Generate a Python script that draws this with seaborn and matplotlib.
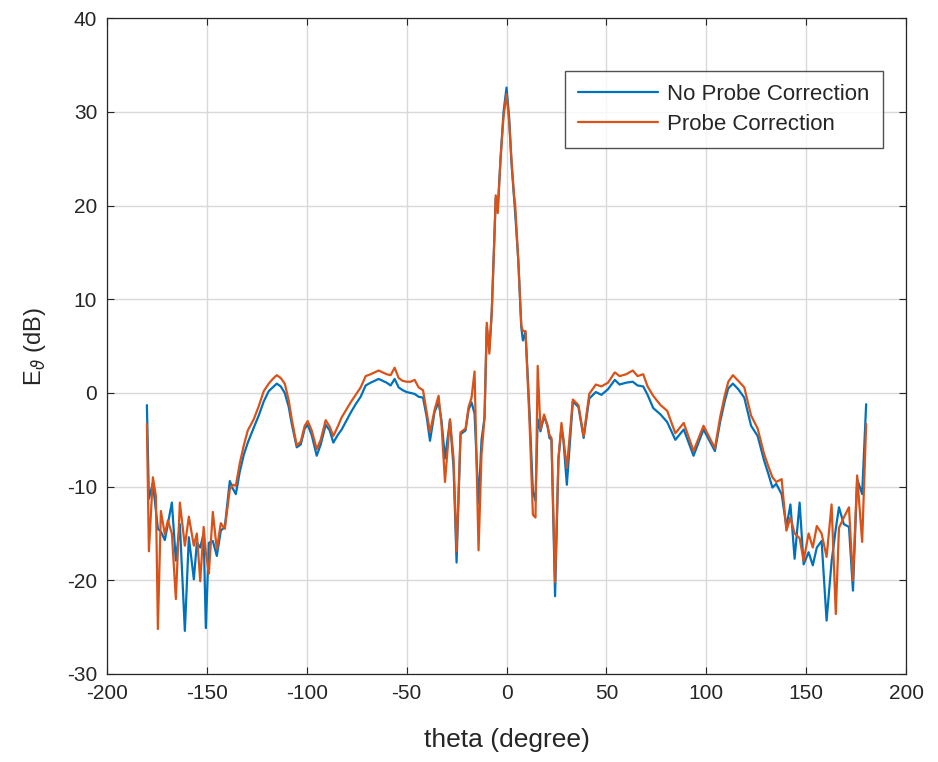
import numpy as np
import pandas as pd
import matplotlib
matplotlib.use("Agg")
import matplotlib.pyplot as plt
import seaborn as sns

# Far-field pattern, E-theta component (dB) versus theta (degrees)
theta = [
    -180, -179, -177, -175.5, -174.5, -173, -171, -169.5, -167.5, -165.5,
    -163.5, -161, -159, -156.5, -155, -153.3, -151.6, -150.5, -149, -147,
    -145, -143, -141, -138.5, -137, -135.5, -133.5, -131.5, -129.5, -126.5,
    -124, -121.5, -119, -117, -115, -113, -111, -109, -107.5, -105,
    -103, -101, -99.5, -97.5, -95, -93, -90.5, -88.5, -86.7, -84.5,
    -82.5, -80, -78, -75.5, -73, -70.5, -68, -66, -64, -62,
    -60, -58, -56, -54, -52, -50, -48, -46, -44, -41.8,
    -40, -38.3, -36, -34, -32.5, -30.8, -28.3, -26.5, -25, -23,
    -20.5, -19, -17.5, -16, -14, -12.5, -11, -9.9, -8.6, -7.4,
    -6, -5.4, -4.4, -3, -1.5, 0, 1.3, 2.5, 3.8, 4.3,
    5.9, 7.4, 8.2, 9.5, 11.5, 13.2, 14.5, 15.6, 17, 18.8,
    20.5, 21.5, 22.5, 24.3, 26, 27.5, 28.5, 30.2, 33.2, 36,
    38.6, 41.4, 44.7, 47.5, 50.8, 54.2, 56.6, 59.9, 63.2, 65.6,
    68.4, 70.6, 73.4, 77.1, 80.4, 84.5, 88.7, 93.6, 98.6, 104.3,
    107, 109.3, 111, 113.3, 116, 119, 122.4, 125.7, 128.9, 131,
    133.1, 135, 137.7, 140.1, 142.1, 144.2, 146.7, 148.7, 151.2, 153.3,
    155.3, 157.7, 160.2, 162.7, 164.8, 166.4, 168.8, 171.4, 173.4, 175.5,
    178, 180,
]

no_probe_corr = [
    -1.3, -11.3, -9.6, -12.5, -14.5, -14.8, -15.7, -14.0, -11.7, -17.9,
    -14.0, -25.4, -15.4, -19.9, -16.0, -16.5, -15.0, -25.1, -16.0, -15.8,
    -17.4, -14.7, -14.3, -9.4, -10.2, -10.8, -8.4, -6.6, -5.3, -3.7,
    -2.4, -0.9, 0.2, 0.6, 1.0, 0.7, 0.0, -1.5, -3.3, -5.8,
    -5.5, -3.8, -3.4, -4.5, -6.7, -5.5, -3.4, -4.0, -5.3, -4.5,
    -3.9, -2.9, -2.1, -1.2, -0.4, 0.8, 1.1, 1.3, 1.5, 1.3,
    1.1, 0.8, 1.5, 0.6, 0.3, 0.1, 0.0, -0.1, -0.4, -0.5,
    -2.5, -5.1, -2.0, -1.0, -3.0, -7.0, -2.9, -8.0, -18.1, -4.4,
    -4.0, -1.8, -1.0, -2.2, -11.8, -5.0, -2.6, 7.0, 4.6, 8.6,
    17.0, 20.8, 19.6, 25.0, 30.0, 32.6, 29.5, 24.5, 20.7, 19.3,
    14.1, 7.0, 5.6, 6.5, -2.0, -10.5, -11.5, -2.8, -4.1, -2.5,
    -3.5, -4.8, -5.0, -21.7, -7.0, -3.7, -5.1, -9.8, -0.9, -1.5,
    -4.8, -0.6, 0.1, -0.2, 0.4, 1.4, 0.9, 1.1, 1.2, 0.8,
    0.7, -0.2, -1.6, -2.3, -3.1, -5.0, -3.9, -6.7, -3.9, -6.2,
    -3.0, -0.8, 0.5, 1.0, 0.4, -0.5, -3.5, -4.6, -7.2, -8.6,
    -10.1, -9.7, -10.8, -14.3, -11.9, -17.7, -11.7, -18.3, -17.0, -18.4,
    -16.5, -15.8, -24.3, -18.0, -14.5, -12.2, -14.0, -14.3, -21.1, -9.2,
    -10.8, -1.2,
]

probe_corr = [
    -3.3, -16.9, -9.0, -11.0, -25.2, -12.6, -15.1, -13.6, -15.0, -22.0,
    -11.7, -16.3, -13.2, -16.3, -15.0, -20.1, -14.3, -17.0, -19.3, -12.7,
    -16.7, -13.9, -14.5, -10.3, -9.8, -9.9, -7.5, -5.6, -4.0, -2.8,
    -1.4, 0.2, 1.0, 1.5, 1.9, 1.6, 1.0, -0.8, -2.8, -5.6,
    -5.2, -3.5, -3.0, -4.0, -6.0, -5.0, -2.9, -3.6, -4.6, -3.6,
    -2.6, -1.7, -1.0, -0.2, 0.6, 1.8, 2.0, 2.2, 2.4, 2.2,
    2.0, 1.9, 2.7, 1.6, 1.3, 1.2, 1.2, 1.4, 0.6, 0.3,
    -2.0, -4.2, -1.8, -0.3, -3.5, -9.5, -2.8, -7.0, -16.9, -4.2,
    -3.8, -1.5, -0.5, 2.3, -16.8, -6.5, -2.6, 7.5, 4.2, 8.6,
    17.0, 21.1, 19.2, 25.0, 29.5, 31.9, 29.0, 24.8, 21.0, 20.2,
    14.1, 7.2, 6.6, 6.6, -3.0, -13.0, -13.3, 2.9, -3.9, -2.3,
    -3.5, -4.5, -4.8, -20.2, -7.0, -3.2, -5.0, -8.0, -0.7, -1.3,
    -4.6, -0.1, 0.9, 0.7, 1.1, 2.2, 1.8, 2.0, 2.4, 1.8,
    2.0, 0.7, -0.3, -1.3, -1.9, -4.3, -3.2, -6.2, -3.5, -5.9,
    -2.5, -0.2, 1.2, 1.9, 1.3, 0.6, -2.4, -3.8, -6.5, -7.8,
    -9.0, -9.5, -9.2, -14.7, -13.3, -15.0, -15.5, -17.9, -15.0, -16.5,
    -14.2, -15.0, -17.5, -11.9, -23.6, -14.4, -13.3, -12.2, -20.0, -8.8,
    -15.9, -3.3,
]

series_names = ["No Probe Correction", "Probe Correction"]
series_colors = ["#0072BD", "#D95319"]

df = pd.concat([
    pd.DataFrame({"theta": theta, "E": no_probe_corr, "series": series_names[0]}),
    pd.DataFrame({"theta": theta, "E": probe_corr, "series": series_names[1]}),
], ignore_index=True)

sns.set_theme(style="ticks")
plt.rcParams["font.family"] = ["Liberation Sans", "DejaVu Sans"]
plt.rcParams["mathtext.fontset"] = "dejavusans"
plt.rcParams["axes.unicode_minus"] = False

fig = plt.figure(figsize=(9.38, 7.62), dpi=100)
ax = fig.add_axes([0.114, 0.1155, 0.852, 0.8605])

sns.lineplot(
    data=df, x="theta", y="E", hue="series",
    hue_order=series_names, palette=series_colors,
    linewidth=1.6, sort=False, estimator=None, ax=ax,
)

ax.set_xlim(-200, 200)
ax.set_ylim(-30, 40)
ax.set_xticks(np.arange(-200, 201, 50))
ax.set_yticks(np.arange(-30, 41, 10))
ax.grid(True, color="#d9d9d9", linewidth=1.0)
ax.set_axisbelow(True)
ax.tick_params(direction="in", length=5, width=0.8, colors="#262626",
               labelsize=15, top=True, right=True)
ax.tick_params(axis="y", pad=7)
ax.tick_params(axis="x", pad=7)
for sp in ax.spines.values():
    sp.set_color("#262626")
    sp.set_linewidth(0.9)

ax.set_xlabel("theta (degree)", fontsize=19, color="#262626", labelpad=18)
ax.set_ylabel(r"E$_{\vartheta}$ (dB)", fontsize=17, color="#262626", labelpad=14)

leg = ax.legend(loc="upper right", bbox_to_anchor=(0.9705, 0.92),
                fontsize=16, frameon=True, fancybox=False,
                handlelength=3.6, handletextpad=0.4, borderpad=0.6,
                labelspacing=0.4, borderaxespad=0.0)
leg.get_frame().set_edgecolor("#262626")
leg.get_frame().set_linewidth(1.0)

fig.savefig("out.png", dpi=100)
